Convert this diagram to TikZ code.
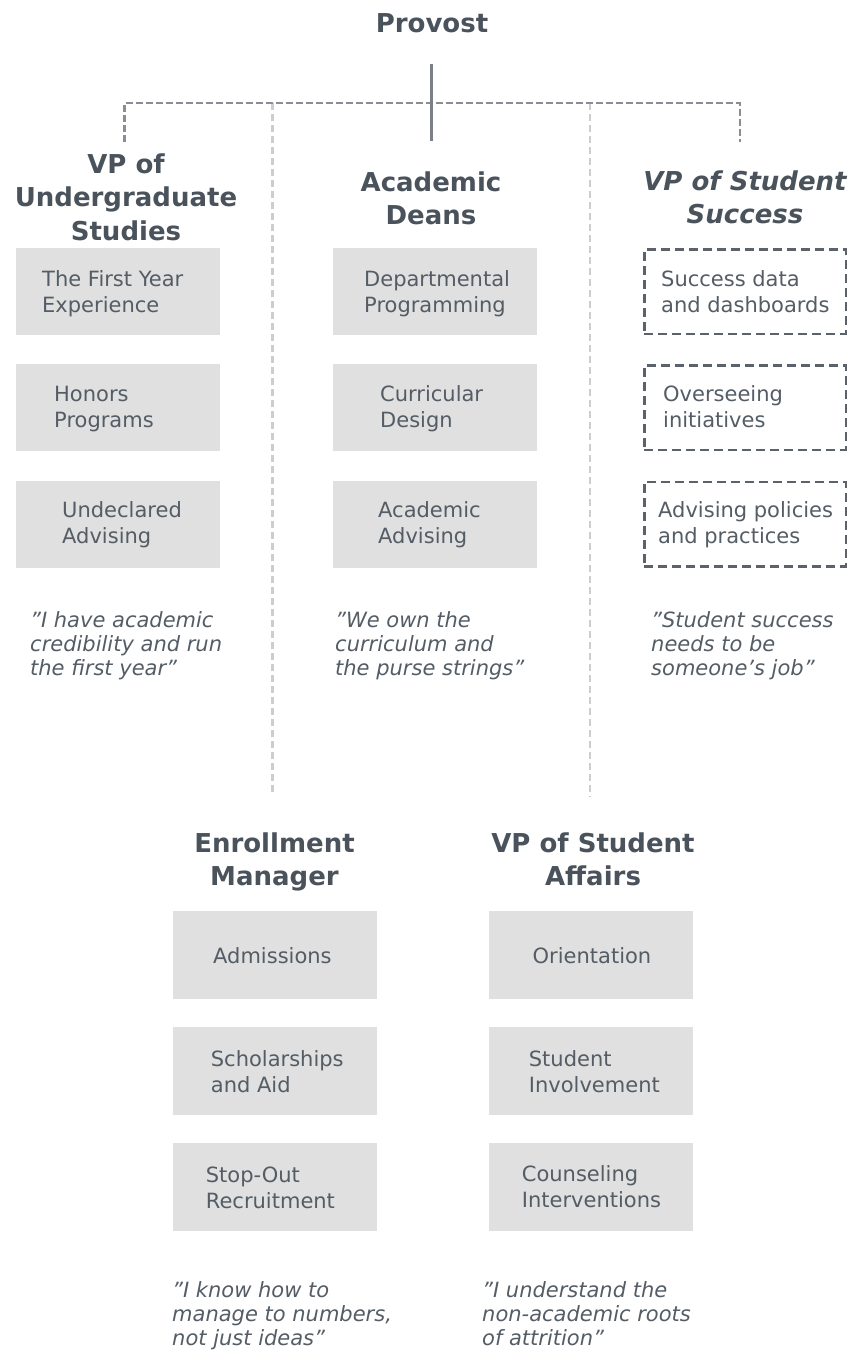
\documentclass[tikz,border=0pt]{standalone}
\usepackage{fontspec}
\setmainfont{DejaVu Sans}
\definecolor{txt}{HTML}{545C65}
\definecolor{hdr}{HTML}{4A535C}
\definecolor{boxfill}{HTML}{DFE0DF}
\definecolor{solidln}{HTML}{7B8088}
\definecolor{dkdash}{HTML}{8A8E94}
\definecolor{ltdash}{HTML}{CDCDCD}
\definecolor{boxdash}{HTML}{5B626A}
\newcommand{\blk}[1]{\begin{tabular}[t]{@{}l@{}}#1\end{tabular}}
\newcommand{\cblk}[1]{\begin{tabular}[t]{@{}c@{}}#1\end{tabular}}
\begin{document}
\begin{tikzpicture}[x=1pt,y=-1pt,
  gbox/.style={fill=boxfill, draw=none, minimum width=204pt, minimum height=87pt, inner sep=0pt},
  dbox/.style={draw=boxdash, line width=2.5pt, dash pattern=on 9pt off 5pt, minimum width=201.5pt, minimum height=84.5pt, inner sep=0pt},
  btxt/.style={anchor=base west, inner sep=0pt, text=txt, font=\fontsize{21}{26}\selectfont},
  qtxt/.style={anchor=base west, inner sep=0pt, text=txt, font=\fontsize{21}{24}\selectfont\itshape},
  htxt/.style={anchor=base, inner sep=0pt, text=hdr, font=\fontsize{26}{33.5}\selectfont\bfseries},
  hitxt/.style={htxt, font=\fontsize{26}{33.5}\selectfont\bfseries\itshape},
  ltline/.style={draw=ltdash, line width=2.5pt, dash pattern=on 7pt off 4pt},
  dkline/.style={draw=dkdash, line width=2.5pt, dash pattern=on 7pt off 3pt},
  solid line/.style={draw=solidln, line width=2.5pt}
]
\useasboundingbox (0,0) rectangle (855,1352);

% Provost and connectors
\node[htxt] (prov) at (432,32) {Provost};
\coordinate (v1t) at (272.5,103);
\coordinate (v1b) at (272.5,793);
\coordinate (v2t) at (590,103);
\coordinate (v2b) at (590,797);
\coordinate (hL) at (124.5,103);
\coordinate (hR) at (740,103);
\coordinate (dL) at (124.5,142);
\coordinate (dR) at (740,142);
\coordinate (sTop) at (431.5,64);
\coordinate (sBot) at (431.5,141);
\draw[ltline] (v1t) -- (v1b);
\draw[ltline] (v2t) -- (v2b);
\draw[dkline] (dL) -- (hL) -- (hR) -- (dR);
\draw[solid line] (sTop) -- (sBot);

% Headers
\node[htxt] (hU) at (126,173) {\cblk{VP of\\Undergraduate\\Studies}};
\node[htxt] (hA) at (431,191) {\cblk{Academic\\Deans}};
\node[hitxt] (hS) at (745,190) {\cblk{VP of Student\\Success}};
\node[htxt] (hE) at (274.5,852) {\cblk{Enrollment\\Manager}};
\node[htxt] (hV) at (593,852) {\cblk{VP of Student\\Affairs}};

% Top boxes
\node[gbox] (b11) at (118,291.5) {};
\node[gbox] (b12) at (118,407.5) {};
\node[gbox] (b13) at (118,524) {};
\node[gbox] (b21) at (434.5,291.5) {};
\node[gbox] (b22) at (434.5,407.5) {};
\node[gbox] (b23) at (434.5,524) {};
\node[dbox] (b31) at (745,291.5) {};
\node[dbox] (b32) at (745,407.5) {};
\node[dbox] (b33) at (745,524) {};

% Bottom boxes
\node[gbox, minimum height=88pt] (b41) at (274.7,955) {};
\node[gbox, minimum height=88pt] (b42) at (274.7,1071) {};
\node[gbox, minimum height=88pt] (b43) at (274.7,1187) {};
\node[gbox, minimum height=88pt] (b51) at (591,955) {};
\node[gbox, minimum height=88pt] (b52) at (591,1071) {};
\node[gbox, minimum height=88pt] (b53) at (591,1187) {};

% Box texts
\node[btxt] (t11) at (42,286) {\blk{The First Year\\Experience}};
\node[btxt] (t12) at (54,401.5) {\blk{Honors\\Programs}};
\node[btxt] (t13) at (62,517) {\blk{Undeclared\\Advising}};
\node[btxt] (t21) at (364,286) {\blk{Departmental\\Programming}};
\node[btxt] (t22) at (380,401.5) {\blk{Curricular\\Design}};
\node[btxt] (t23) at (378,517) {\blk{Academic\\Advising}};
\node[btxt] (t31) at (661,286) {\blk{Success data\\and dashboards}};
\node[btxt] (t32) at (663,401.5) {\blk{Overseeing\\initiatives}};
\node[btxt] (t33) at (658,517) {\blk{Advising policies\\and practices}};
\node[btxt] (t41) at (213,963) {Admissions};
\node[btxt] (t42) at (210.7,1066) {\blk{Scholarships\\and Aid}};
\node[btxt] (t43) at (205.7,1182) {\blk{Stop-Out\\Recruitment}};
\node[btxt] (t51) at (532.5,963) {Orientation};
\node[btxt] (t52) at (528.7,1066) {\blk{Student\\Involvement}};
\node[btxt] (t53) at (521.7,1181) {\blk{Counseling\\Interventions}};

% Quotes
\node[qtxt] (q1) at (30,627) {\blk{"I have academic\\credibility and run\\the first year”}};
\node[qtxt] (q2) at (335,627) {\blk{"We own the\\curriculum and\\the purse strings”}};
\node[qtxt] (q3) at (651,627) {\blk{"Student success\\needs to be\\someone’s job”}};
\node[qtxt] (q4) at (172,1297) {\blk{"I know how to\\manage to numbers,\\not just ideas”}};
\node[qtxt] (q5) at (482,1297) {\blk{"I understand the\\non-academic roots\\of attrition”}};
\end{tikzpicture}
\end{document}
